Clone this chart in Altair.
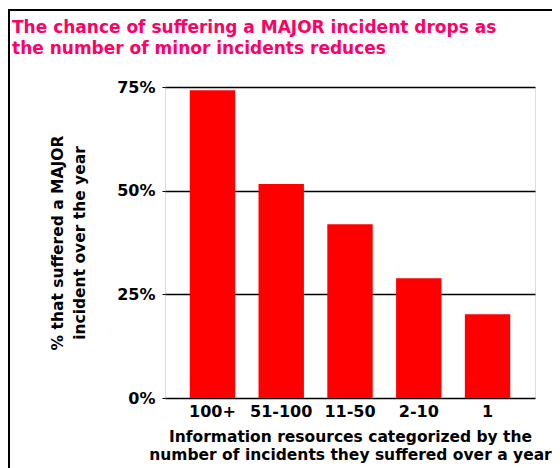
import altair as alt
import pandas as pd

categories = ["100+", "51-100", "11-50", "2-10", "1"]
values = [0.742, 0.516, 0.419, 0.289, 0.202]
y_ticks = [0, 0.25, 0.5, 0.75]

title_line1 = "The chance of suffering a MAJOR incident drops as"
title_line2 = "the number of minor incidents reduces"
x_title = ["Information resources categorized by the",
           "number of incidents they suffered over a year"]
y_title = ["% that suffered a MAJOR", "incident over the year"]

df = pd.DataFrame({"cat": categories, "val": values})
FONT = "DejaVu Sans"

bars = alt.Chart(df).mark_bar(color="#FF0000").encode(
    x=alt.X("cat:N", sort=categories,
            scale=alt.Scale(paddingInner=0.34, paddingOuter=0.36),
            axis=alt.Axis(title=x_title, labelAngle=0, ticks=False, domain=False,
                          labelFont=FONT, labelFontWeight="bold", labelFontSize=16,
                          labelColor="black", labelPadding=5,
                          titleFont=FONT, titleFontWeight="bold", titleFontSize=15.5,
                          titleColor="black", titleLineHeight=18, titlePadding=10)),
    y=alt.Y("val:Q", scale=alt.Scale(domain=[0, 0.75], nice=False),
            axis=alt.Axis(title=y_title, values=y_ticks, format=".0%",
                          grid=True, gridColor="black", gridWidth=1.5,
                          domain=False, tickSize=3, tickColor="black",
                          labelFont=FONT, labelFontWeight="bold", labelFontSize=16,
                          labelColor="black", labelPadding=7,
                          titleFont=FONT, titleFontWeight="bold", titleFontSize=15.5,
                          titleColor="black", titleLineHeight=22, titlePadding=29)),
)

text_df = pd.DataFrame({"a": [0]})
title_style = dict(font=FONT, fontWeight="bold", fontSize=17, color="#FF0066",
                   align="left", baseline="alphabetic")
title1 = alt.Chart(text_df).mark_text(**title_style).encode(
    text=alt.value(title_line1), x=alt.value(-153), y=alt.value(-54))
title2 = alt.Chart(text_df).mark_text(**title_style).encode(
    text=alt.value(title_line2), x=alt.value(-153), y=alt.value(-33))

top_line = alt.Chart(text_df).mark_rule(color="black", strokeWidth=2).encode(
    x=alt.value(-157), x2=alt.value(420), y=alt.value(-77))
left_line = alt.Chart(text_df).mark_rule(color="black", strokeWidth=2).encode(
    x=alt.value(-156), y=alt.value(-77), y2=alt.value(420))

chart = alt.layer(bars, title1, title2, top_line, left_line).properties(
    width=370, height=311,
    autosize=alt.AutoSizeParams(type="none"),
    padding={"left": 157, "top": 79, "right": 17, "bottom": 70},
).configure_view(stroke="#111111", strokeWidth=2).configure(background="white")

chart.save("out.html", embed_options={"renderer": "svg", "actions": False})
